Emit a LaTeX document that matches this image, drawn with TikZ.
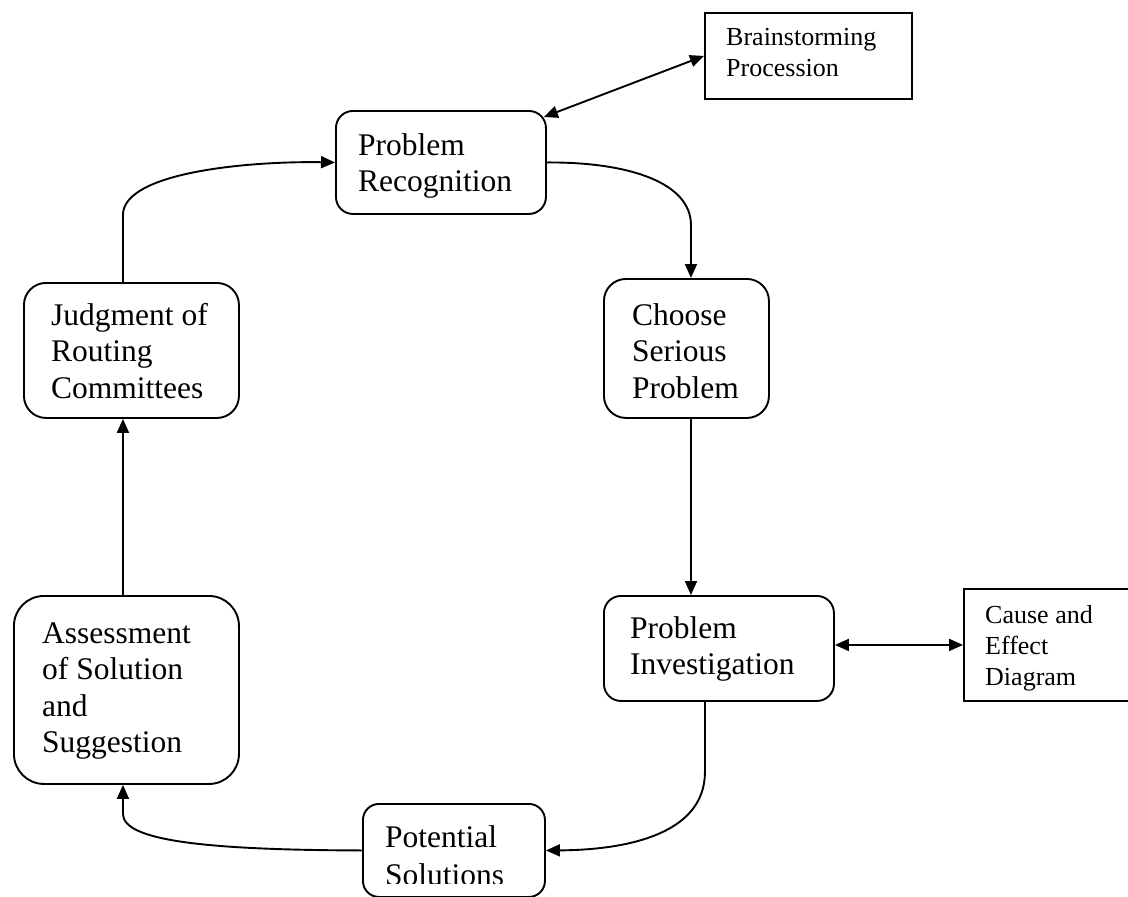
\documentclass[tikz,border=0pt]{standalone}
\usepackage{fontspec}
\setmainfont{Liberation Serif}
\usetikzlibrary{arrows.meta,calc}
\begin{document}
\begin{tikzpicture}[x=1pt,y=-1pt,
  box/.style={draw, line width=1.9pt, inner sep=0pt, anchor=north west},
  mtxt/.style={anchor=base west, inner sep=0pt, font=\fontsize{31.5}{36.5}\selectfont},
  stxt/.style={anchor=base west, inner sep=0pt, font=\fontsize{26}{31}\selectfont},
  tip/.tip={Triangle[length=14pt,width=12pt]},
  arr/.style={line width=1.9pt, -tip},
  darr/.style={line width=1.9pt, tip-tip}]
\useasboundingbox (0,0) rectangle (1128,897);
\fill[white] (0,0) rectangle (1128,897);

% boxes
\node[box, rounded corners=17pt, minimum width=210pt, minimum height=103pt] (pr) at (335,110) {};
\node[box, minimum width=207pt, minimum height=86pt] (brain) at (704,12) {};
\node[box, rounded corners=22pt, minimum width=165pt, minimum height=139pt] (choose) at (603,278) {};
\node[box, rounded corners=17pt, minimum width=230pt, minimum height=105pt] (inv) at (603,595) {};
\node[box, minimum width=180pt, minimum height=112pt] (cause) at (963,588) {};
\node[box, rounded corners=16pt, minimum width=182pt, minimum height=93pt] (pot) at (362,803) {};
\node[box, rounded corners=30pt, minimum width=225pt, minimum height=188pt] (assess) at (13,595) {};
\node[box, rounded corners=22pt, minimum width=215pt, minimum height=135pt] (judg) at (23,282) {};

% texts
\node[mtxt] (pr-t) at (358,155) {\begin{tabular}[t]{@{}l@{}}Problem\\Recognition\end{tabular}};
\node[stxt] (brain-t) at (726,45) {\begin{tabular}[t]{@{}l@{}}Brainstorming\\Procession\end{tabular}};
\node[mtxt] (choose-t) at (632,325) {\begin{tabular}[t]{@{}l@{}}Choose\\Serious\\Problem\end{tabular}};
\node[mtxt] (inv-t) at (630,638) {\begin{tabular}[t]{@{}l@{}}Problem\\Investigation\end{tabular}};
\node[stxt] (cause-t) at (985,623) {\begin{tabular}[t]{@{}l@{}}Cause and\\Effect\\Diagram\end{tabular}};
\begin{scope}
\clip (362,803) rectangle (544,883);
\node[mtxt] (pot-t) at (385,847) {\begin{tabular}[t]{@{}l@{}}Potential\\[2pt]Solutions\end{tabular}};
\end{scope}
\node[mtxt] (assess-t) at (42,643) {\begin{tabular}[t]{@{}l@{}}Assessment\\of Solution\\and\\Suggestion\end{tabular}};
\node[mtxt] (judg-t) at (51,325) {\begin{tabular}[t]{@{}l@{}}Judgment of\\Routing\\Committees\end{tabular}};

% connectors
\coordinate (c0) at ($(pr.north east)+(-3,7)$);
\draw[darr] (c0) -- (brain.west);
\coordinate (c1) at ($(choose.north)+(4.5,0)$);
\draw[arr] (pr.east) .. controls (630,162) and ($(c1)+(0,-95)$) .. ($(c1)+(0,-53)$) -- (c1);
\coordinate (c2) at ($(choose.south)+(4.5,0)$);
\draw[arr] (c2) -- (c2 |- inv.north);
\coordinate (c7) at ($(inv.east)+(0,-3.5)$);
\draw[darr] (c7) -- (c7 -| cause.west);
\coordinate (c3) at ($(inv.south)+(-14,0)$);
\draw[arr] (c3) -- ($(c3)+(0,70)$) .. controls ($(c3)+(0,135)$) and (620,850) .. (pot.east);
\coordinate (c4) at ($(assess.south)+(-3.5,0)$);
\draw[arr] (pot.west) .. controls (200,850) and ($(c4)+(0,55)$) .. ($(c4)+(0,29)$) -- (c4);
\coordinate (c5) at ($(assess.north)+(-3.5,0)$);
\draw[arr] (c5) -- (c5 |- judg.south);
\coordinate (c6) at ($(judg.north)+(-8.5,0)$);
\draw[arr] (c6) -- ($(c6)+(0,-67)$) .. controls ($(c6)+(0,-110)$) and (250,161) .. (pr.west);
\end{tikzpicture}
\end{document}
